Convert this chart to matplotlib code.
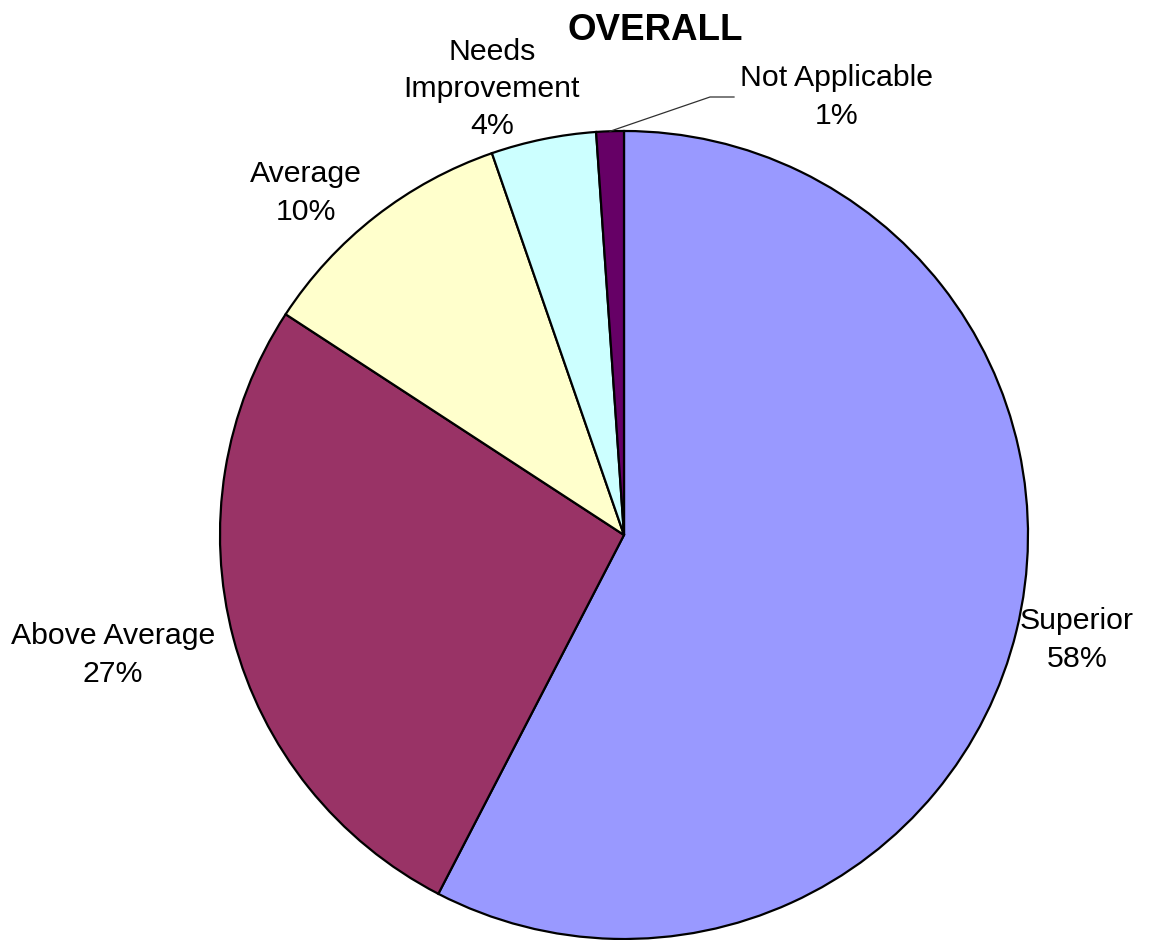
import numpy as np
import matplotlib
matplotlib.use("Agg")
import matplotlib.pyplot as plt

categories = ["Superior", "Above Average", "Average", "Needs\nImprovement", "Not Applicable"]
values = [57.6, 26.6, 10.5, 4.2, 1.1]
colors = ["#9999FF", "#993366", "#FFFFCC", "#CCFFFF", "#660066"]
title = "OVERALL"

plt.rcParams['font.family'] = ['Liberation Sans', 'DejaVu Sans']

W, H = 1157, 940
fig = plt.figure(figsize=(W / 100, H / 100), dpi=100)
ax = fig.add_axes([0, 0, 1, 1])

cx, cy, r = 624, H - 535, 404
wedges, _ = ax.pie(values, colors=colors, startangle=90, counterclock=False,
                   center=(cx, cy), radius=r,
                   wedgeprops=dict(edgecolor="black", linewidth=1.6))
ax.set_xlim(0, W)
ax.set_ylim(0, H)
ax.set_aspect('equal')
ax.axis('off')

# label positions (pixel coords, top-origin) per category
label_pos = [(1077, 640), (113, 655), (306, 193), (492, 89), (837, 97)]
fs = 21.8
for name, v, (lx, ly) in zip(categories, values, label_pos):
    ax.text(lx, H - ly, f"{name}\n{round(v)}%", ha="center", va="center",
            fontsize=fs, linespacing=1.42)

# leader line for Not Applicable
w = wedges[4]
mid = np.deg2rad((w.theta1 + w.theta2) / 2)
sx, sy = cx + r * np.cos(mid), cy + r * np.sin(mid)
ax.plot([sx, 710, 734], [sy, H - 97, H - 97], color="#303030", lw=0.9)

ax.text(655, H - 30, title, ha="center", va="center", fontsize=26.5, fontweight="bold")

fig.savefig("out.png", dpi=100)
